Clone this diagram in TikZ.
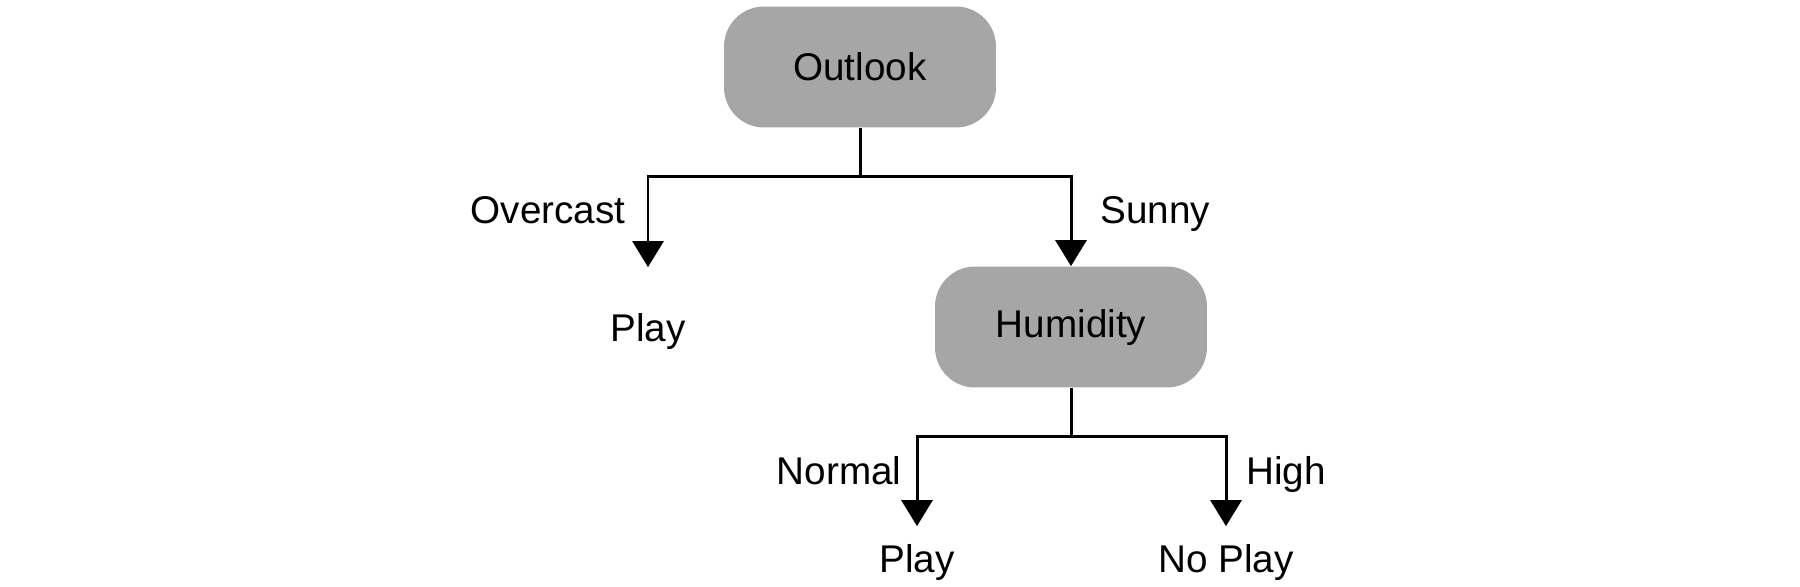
\documentclass[tikz,border=0pt]{standalone}
\usepackage{fontspec}
\setmainfont{Liberation Sans}
\usetikzlibrary{arrows.meta}
\definecolor{nodegray}{RGB}{166,166,166}

\begin{document}
\begin{tikzpicture}[x=0.02cm, y=-0.02cm,
  every node/.style={font=\fontsize{22}{26}\selectfont},
  test/.style={fill=nodegray, rounded corners=0.8cm, minimum width=5.44cm,
    minimum height=2.42cm, inner sep=0pt},
  leaf/.style={inner sep=0pt, text height=16.5pt, text depth=4.6pt},
  lbl/.style={inner sep=0pt, text height=15.8pt, text depth=0pt},
  branch/.style={line width=1.7pt, -{Triangle[width=0.62cm,length=0.52cm]}}]
  \useasboundingbox (0,0) rectangle (1800,586);

  % Nodes
  \node[test] (outlook) at (860,67) {Outlook};
  \node[test] (humidity) at (1071,327) {Humidity};
  \node[leaf] (play1) at (648,331) {Play};
  \node[leaf] (play2) at (917,562) {Play};
  \node[leaf] (noplay) at (1226,562) {No Play};

  % Branches
  \draw[branch, shorten >=0.9cm] (outlook.south) -- ++(0,49)
    -| node[lbl, pos=0.622, left=0.42cm] {Overcast} (play1.north);
  \draw[branch] (outlook.south) -- ++(0,49)
    -| node[lbl, pos=0.683, right=0.56cm] {Sunny} (humidity.north);
  \draw[branch, shorten >=0.34cm] (humidity.south) -- ++(0,49)
    -| node[lbl, pos=0.657, left=0.28cm] {Normal} (play2.north);
  \draw[branch, shorten >=0.34cm] (humidity.south) -- ++(0,49)
    -| node[lbl, pos=0.657, right=0.38cm] {High} (noplay.north);
\end{tikzpicture}
\end{document}
